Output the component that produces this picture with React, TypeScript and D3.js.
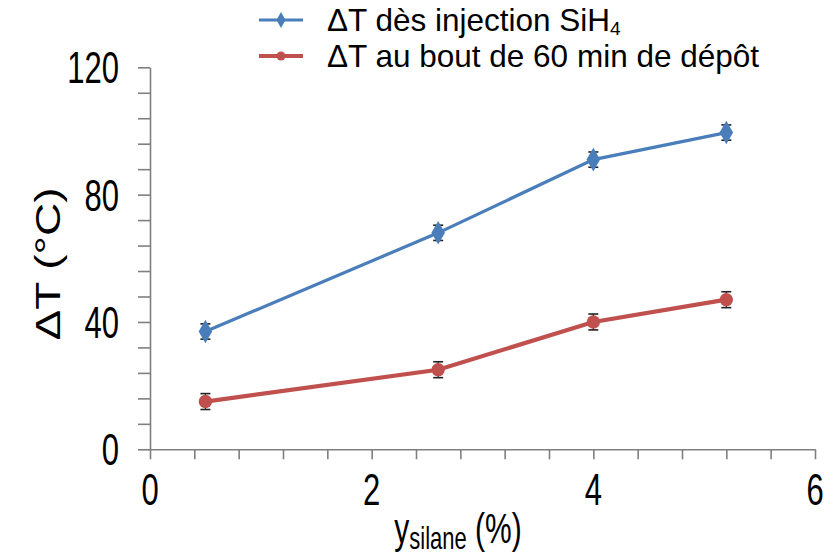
import React from 'react';
import * as d3 from 'd3';

const silane = [0.5, 2.6, 4.0, 5.2];
const dtInjection = [37, 68, 91, 99.5];
const dtInjectionErr = [2.4, 2.4, 2.4, 2.4];
const dtDepot = [15, 25, 40, 47];
const dtDepotErr = [2.5, 2.5, 2.5, 2.5];
const xMinorTicks = d3.range(0, 6.01, 0.4);
const xLabelTicks = [0, 2, 4, 6];
const yMinorTicks = d3.range(0, 120.01, 8);
const yLabelTicks = [0, 40, 80, 120];
const seriesNames = ['ΔT dès injection SiH', 'ΔT au bout de 60 min de dépôt'];

const BLUE = '#4a7ebb';
const RED = '#c0504d';
const FONT = 'Liberation Sans, Arial, sans-serif';
const STRETCH = 1.42; // text in the original looks tall and narrow

export default function App() {
  const ref = React.useRef<SVGSVGElement>(null);

  React.useEffect(() => {
    const svg = d3.select(ref.current);
    svg.selectAll('*').remove();

    const x = d3.scaleLinear().domain([0, 6]).range([150, 815]);
    const y = d3.scaleLinear().domain([0, 120]).range([449.3, 67.3]);

    // axes
    const xAxis = svg.append('g')
      .attr('transform', `translate(0,${y(0)})`)
      .call(d3.axisBottom(x).tickValues(xMinorTicks).tickFormat(() => '').tickSize(10).tickSizeOuter(0));
    const yAxis = svg.append('g')
      .attr('transform', `translate(${x(0)},0)`)
      .call(d3.axisLeft(y).tickValues(yMinorTicks).tickFormat(() => '').tickSize(12).tickSizeOuter(0));
    [xAxis, yAxis].forEach(g => {
      g.selectAll('path, line').attr('stroke', '#7f7f7f').attr('stroke-width', 1.6);
    });

    svg.append('g').selectAll('text')
      .data(xLabelTicks)
      .enter().append('text')
      .attr('transform', d => `translate(${x(d)},505) scale(1,${STRETCH})`)
      .attr('text-anchor', 'middle')
      .attr('font-family', FONT)
      .attr('font-size', 31)
      .text(d => d);

    svg.append('g').selectAll('text')
      .data(yLabelTicks)
      .enter().append('text')
      .attr('transform', d => `translate(119,${y(d) + 16}) scale(1,${STRETCH})`)
      .attr('text-anchor', 'end')
      .attr('font-family', FONT)
      .attr('font-size', 31)
      .text(d => d);

    // axis titles
    const xt = svg.append('text')
      .attr('transform', `translate(458,543) scale(1,${STRETCH})`)
      .attr('text-anchor', 'middle')
      .attr('font-family', FONT)
      .attr('font-size', 30);
    xt.append('tspan').text('y');
    xt.append('tspan').attr('font-size', 22).attr('dy', 4).text('silane');
    xt.append('tspan').attr('dy', -4).text(' (%)');

    svg.append('text')
      .attr('transform', `translate(60,264) rotate(-90) scale(${STRETCH * 0.9},1)`)
      .attr('text-anchor', 'middle')
      .attr('font-family', FONT)
      .attr('font-size', 36)
      .text('ΔT (°C)');

    const series = [
      { vals: dtInjection, err: dtInjectionErr, color: BLUE, width: 3.2, shape: d3.symbolDiamond, size: 160 },
      { vals: dtDepot, err: dtDepotErr, color: RED, width: 4.2, shape: d3.symbolCircle, size: 140 },
    ];

    const line = d3.line<[number, number]>().x(d => x(d[0])).y(d => y(d[1]));

    series.forEach(s => {
      const pts = silane.map((v, i) => [v, s.vals[i]] as [number, number]);
      svg.append('path')
        .attr('d', line(pts))
        .attr('fill', 'none')
        .attr('stroke', s.color)
        .attr('stroke-width', s.width);

      const eb = svg.append('g');
      pts.forEach((p, i) => {
        const cx = x(p[0]);
        const y1 = y(p[1] + s.err[i]);
        const y2 = y(p[1] - s.err[i]);
        eb.append('line').attr('x1', cx).attr('x2', cx).attr('y1', y1).attr('y2', y2).attr('stroke', '#222').attr('stroke-width', 1.3);
        [y1, y2].forEach(yy => eb.append('line').attr('x1', cx - 5).attr('x2', cx + 5).attr('y1', yy).attr('y2', yy).attr('stroke', '#222').attr('stroke-width', 1.6));
      });

      svg.append('g').selectAll('path')
        .data(pts)
        .enter().append('path')
        .attr('transform', d => `translate(${x(d[0])},${y(d[1])})`)
        .attr('d', d3.symbol().type(s.shape).size(s.size)())
        .attr('fill', s.color);
    });

    // legend
    series.forEach((s, i) => {
      const ly = 20 + i * 36;
      svg.append('line').attr('x1', 259).attr('x2', 303).attr('y1', ly).attr('y2', ly)
        .attr('stroke', s.color).attr('stroke-width', s.width);
      svg.append('path')
        .attr('transform', `translate(281,${ly})`)
        .attr('d', d3.symbol().type(s.shape).size(s.size * 0.45)())
        .attr('fill', s.color);
      const t = svg.append('text')
        .attr('transform', `translate(327,${ly + 11})`)
        .attr('font-family', FONT)
        .attr('font-size', 31.5)
        .text(seriesNames[i]);
      if (i === 0) t.append('tspan').attr('font-size', 19).attr('dy', 4).text('4');
    });
  }, []);

  return (
    <svg ref={ref} width={839} height={557} style={{ position: 'absolute', left: 0, top: 0, background: '#fff' }} />
  );
}
